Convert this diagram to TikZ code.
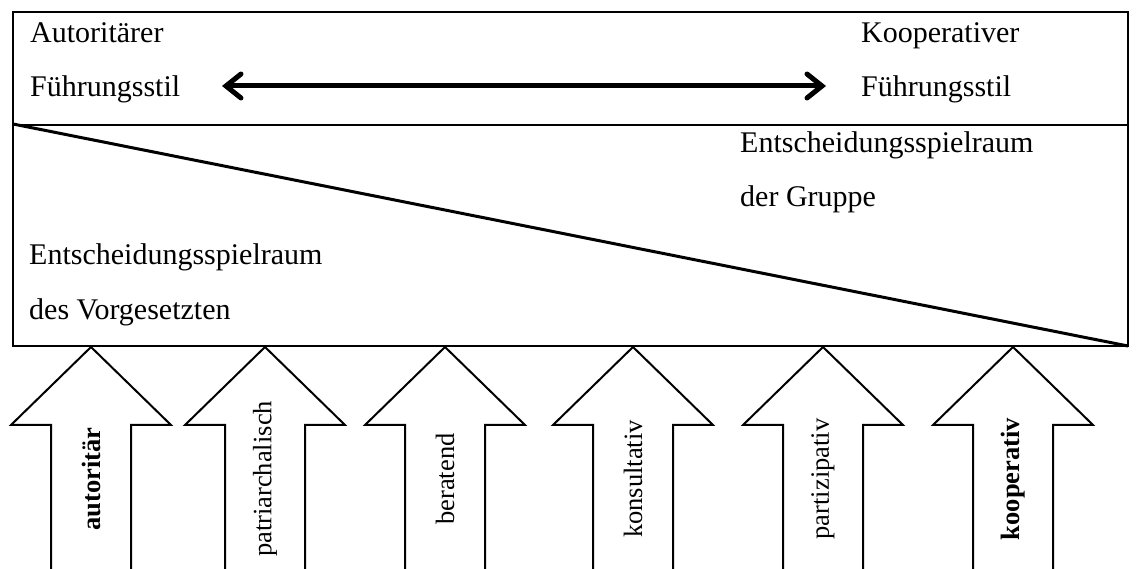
\documentclass[tikz,border=0pt]{standalone}
\usepackage{fontspec}
\setmainfont{Liberation Serif}
\usetikzlibrary{arrows.meta}
\tikzset{
  frame/.style={draw=black, line width=2pt},
  diag/.style={draw=black, line width=3pt},
  txt/.style={inner sep=0pt, anchor=base west, font=\fontsize{30}{36}\selectfont},
  arrtxt/.style={inner sep=0pt, rotate=90, font=\fontsize{26.5}{32}\selectfont},
  dbl/.style={line width=5pt, {Straight Barb[length=15pt,width=24pt,line cap=round]}-{Straight Barb[length=15pt,width=24pt,line cap=round]}},
  blockarr/.pic={\draw[black, line width=2pt, line join=miter] (-40,228) -- (-40,78) -- (-80,78) -- (0,0) -- (80,78) -- (40,78) -- (40,228);}
}
\begin{document}
\begin{tikzpicture}[x=1pt,y=-1pt]
\useasboundingbox (0,0) rectangle (1136,569);
\fill[white] (0,0) rectangle (1136,569);
% boxes
\draw[frame] (13,12) rectangle (1128,125);
\draw[frame] (13,125) rectangle (1128,346);
\coordinate (dtl) at (13,124);
\coordinate (dbr) at (1128,346);
\draw[diag] (dtl) -- (dbr);
% top texts
\node[txt] (aut1) at (30,43) {Autoritärer};
\node[txt] (aut2) at (30,97) {Führungsstil};
\node[txt] (koop1) at (861,43) {Kooperativer};
\node[txt] (koop2) at (861,97) {Führungsstil};
\coordinate (al) at (222,86);
\coordinate (ar) at (826,86);
\draw[dbl] (al) -- (ar);
% middle texts
\node[txt] (eg1) at (740,153) {Entscheidungsspielraum};
\node[txt] (eg2) at (740,207) {der Gruppe};
\node[txt] (ev1) at (29,265) {Entscheidungsspielraum};
\node[txt] (ev2) at (29,320) {des Vorgesetzten};
% block arrows
\foreach \cx in {91,265,445,633,823,1013} {
  \pic at (\cx,347) {blockarr};
}
\node[arrtxt] (s1) at (91,479) {\textbf{autoritär}};
\node[arrtxt] (s2) at (265,479) {patriarchalisch};
\node[arrtxt] (s3) at (445,479) {beratend};
\node[arrtxt] (s4) at (633,479) {konsultativ};
\node[arrtxt] (s5) at (823,479) {partizipativ};
\node[arrtxt] (s6) at (1013,479) {\textbf{kooperativ}};
\end{tikzpicture}
\end{document}
